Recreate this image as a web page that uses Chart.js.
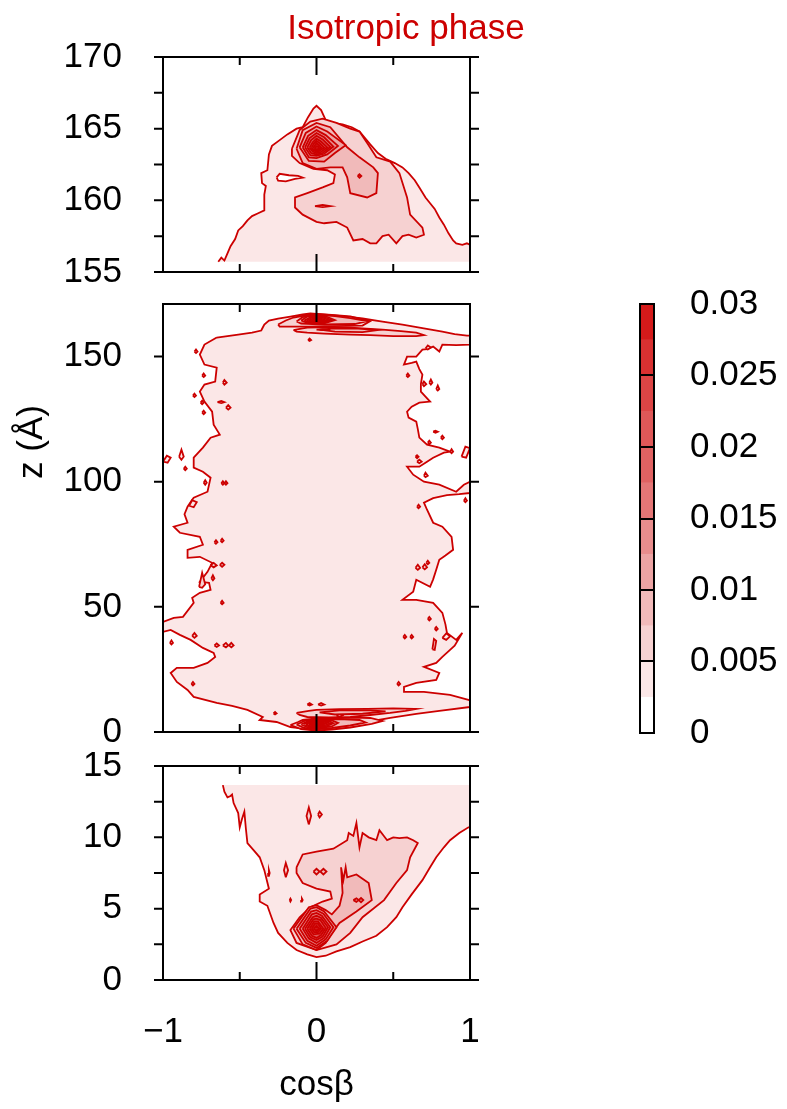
<!DOCTYPE html>
<html>
<head>
<meta charset="utf-8">
<title>Isotropic phase</title>
<script src="https://cdn.jsdelivr.net/npm/chart.js@4.4.1/dist/chart.umd.min.js"></script>
<style>
  html, body { margin: 0; padding: 0; background: #fff; overflow: hidden; }
  #page { position: relative; width: 787px; height: 1109px; }
  canvas { position: absolute; }
</style>
</head>
<body>
<div id="page">
  <canvas id="top_panel"></canvas>
  <canvas id="mid_panel"></canvas>
  <canvas id="bot_panel"></canvas>
  <canvas id="color_bar"></canvas>
</div>
<script>
// contour levels and the fill colour of each band (band k lies between level k and k+1)
var levelValues = [0, 0.0025, 0.005, 0.0075, 0.01, 0.0125, 0.015, 0.0175, 0.02, 0.0225, 0.025, 0.0275, 0.03];
var bandColors = ['#ffffff', '#fbe7e7', '#f6d1d1', '#f1baba', '#eca4a4', '#e88d8d', '#e47676', '#e06262', '#de5858', '#dc4545', '#d83131', '#d41a1a'];

var xTicks = [-1, 0, 1];
var xTickLabels = ['\u22121', '0', '1'];
var xMinorTicks = [-0.5, 0.5];
var topTicks = [155, 160, 165, 170];
var topMinorTicks = [157.5, 162.5, 167.5];
var midTicks = [0, 50, 100, 150];
var botTicks = [0, 5, 10, 15];
var botMinorTicks = [2.5, 7.5, 12.5];
var colorTicks = [0, 0.005, 0.01, 0.015, 0.02, 0.025, 0.03];
var colorTickLabels = ['0', '0.005', '0.01', '0.015', '0.02', '0.025', '0.03'];

// ---- top panel contours, points are [cosβ, z] ----
var topLevel1 = [[-0.64,155.72],[-0.62,156.0],[-0.60,155.8],[-0.58,156.3],[-0.56,156.8],[-0.53,157.3],[-0.51,157.9],[-0.48,158.2],[-0.45,158.6],[-0.42,158.9],[-0.38,159.1],[-0.34,159.3],[-0.34,160.4],[-0.33,161.0],[-0.355,161.2],[-0.36,161.9],[-0.32,162.1],[-0.31,163.2],[-0.29,163.8],[-0.24,164.2],[-0.19,164.6],[-0.13,165.0],[-0.09,165.1],[-0.055,165.8],[-0.02,166.4],[0.0,166.6],[0.03,166.3],[0.06,165.6],[0.10,165.4],[0.17,165.3],[0.23,165.1],[0.28,164.8],[0.32,164.3],[0.35,163.9],[0.40,163.3],[0.45,162.9],[0.51,162.6],[0.56,162.3],[0.60,161.9],[0.64,161.4],[0.67,160.9],[0.71,160.2],[0.74,159.8],[0.77,159.4],[0.80,158.8],[0.83,158.3],[0.86,157.7],[0.89,157.2],[0.91,157.0],[0.95,156.9],[0.98,157.0],[1,156.9],[1,155.72]];
var topHole = [[-0.26,161.6],[-0.24,161.85],[-0.18,161.75],[-0.12,161.7],[-0.09,161.58],[-0.14,161.5],[-0.2,161.32],[-0.25,161.38]];
var topLevel2 = [[-0.16,163.6],[-0.11,164.9],[-0.04,165.5],[0.04,165.7],[0.13,165.4],[0.22,165.0],[0.28,164.8],[0.33,164.0],[0.39,163.0],[0.48,162.7],[0.54,161.9],[0.59,160.2],[0.61,159.0],[0.69,158.1],[0.70,157.6],[0.65,157.4],[0.60,157.6],[0.56,157.5],[0.52,157.0],[0.47,157.6],[0.43,157.5],[0.39,157.0],[0.35,157.0],[0.30,157.3],[0.24,157.2],[0.20,158.1],[0.13,158.5],[0.05,158.4],[0.0,158.5],[-0.09,159.0],[-0.14,159.5],[-0.14,160.2],[-0.06,160.5],[0.04,160.9],[0.11,161.2],[0.12,161.8],[0.07,162.1],[-0.02,162.2],[-0.11,162.6],[-0.16,163.1]];
var topLevel3 = [[-0.13,163.6],[-0.09,164.9],[0.0,165.4],[0.09,165.1],[0.20,163.7],[0.28,163.0],[0.37,162.3],[0.40,161.9],[0.39,160.5],[0.33,160.2],[0.22,160.5],[0.20,161.6],[0.17,162.3],[0.09,162.3],[0.0,162.2],[-0.09,162.6]];
var topLevel4 = [[-0.11,163.7],[-0.07,164.7],[0.0,165.15],[0.07,164.8],[0.19,163.85],[0.12,163.3],[0.05,162.7],[-0.05,162.75]];
var topLevel5 = [[-0.09,163.7],[-0.055,164.5],[0.0,164.9],[0.06,164.55],[0.14,163.8],[0.07,163.2],[0.0,162.95],[-0.05,163.0]];
var topLevel6 = [[-0.075,163.7],[-0.045,164.35],[0.0,164.7],[0.05,164.4],[0.11,163.75],[0.05,163.25],[0.0,163.1],[-0.04,163.15]];
var topLevel7 = [[-0.06,163.7],[-0.035,164.2],[0.0,164.5],[0.04,164.25],[0.09,163.72],[0.04,163.3],[0.0,163.2],[-0.035,163.3]];
var topLevel8 = [[-0.045,163.68],[-0.025,164.05],[0.0,164.3],[0.03,164.1],[0.07,163.7],[0.03,163.38],[0.0,163.3],[-0.025,163.4]];
var topLevel9 = [[-0.033,163.66],[-0.018,163.95],[0.0,164.15],[0.022,163.98],[0.05,163.68],[0.02,163.45],[0.0,163.4],[-0.018,163.48]];
var topLevel10 = [[-0.022,163.65],[-0.01,163.85],[0.0,164.0],[0.015,163.86],[0.032,163.66],[0.014,163.52],[0.0,163.48],[-0.012,163.54]];
var topLevel11 = [[-0.012,163.64],[0.0,163.78],[0.01,163.76],[0.018,163.64],[0.008,163.56],[-0.004,163.56]];
var topIslandA = [[0.268,161.7],[0.28,161.82],[0.292,161.7],[0.28,161.58]];
var topIslandB = [[-0.01,159.6],[0.04,159.68],[0.09,159.6],[0.04,159.53]];

// ---- middle panel contours ----
var midLevel1 = [[-0.65,157.6],[-0.58,158.2],[-0.51,158.8],[-0.42,159.6],[-0.36,160.4],[-0.35,161.6],[-0.34,162.8],[-0.31,164.4],[-0.25,165.2],[-0.17,166.0],[-0.09,166.8],[-0.04,167.2],[0.04,166.8],[0.15,166.2],[0.30,165.2],[0.43,164.0],[0.56,162.8],[0.69,161.4],[0.82,160.0],[0.90,159.0],[0.98,158.4],[1,158.4],[1,154.8],
  [0.91,154.6],[0.82,154.8],[0.80,152.0],[0.76,154.0],[0.72,153.0],[0.69,152.8],[0.65,150.0],[0.59,150.0],[0.57,146.8],[0.62,147.5],[0.65,148.0],[0.67,145.0],[0.69,142.8],[0.68,139.0],[0.68,136.0],[0.71,134.0],[0.74,132.0],[0.67,131.6],[0.62,130.0],[0.59,128.0],[0.60,125.6],[0.65,124.0],[0.66,121.0],[0.67,117.6],[0.72,114.8],[0.80,113.6],[0.87,112.0],[0.83,111.6],[0.76,109.6],[0.72,108.0],[0.67,106.0],[0.59,106.0],[0.63,102.8],[0.70,100.0],[0.80,98.8],[0.91,96.0],[0.96,98.8],[1,100.0],[1,95.5],[0.93,95.0],[0.85,94.6],[0.76,93.4],[0.70,91.6],[0.72,88.8],[0.76,83.6],[0.82,82.0],[0.88,78.0],[0.89,72.8],[0.84,70.5],[0.80,68.8],[0.78,64.8],[0.76,61.0],[0.74,58.0],[0.65,60.8],[0.63,56.0],[0.56,52.8],[0.65,52.8],[0.76,51.6],[0.82,47.6],[0.84,43.0],[0.85,39.6],[0.91,36.8],[0.95,39.6],[0.90,34.5],[0.87,32.8],[0.82,30.0],[0.78,27.6],[0.70,26.0],[0.80,23.6],[0.78,20.8],[0.65,19.6],[0.57,18.0],[0.57,16.0],[0.70,16.0],[0.87,14.8],[0.99,12.8],[1,12.6],[1,10.0],
  [0.80,8.4],[0.65,7.2],[0.48,5.6],[0.33,4.0],[0.13,1.6],[0.0,0.8],[-0.17,2.0],[-0.26,4.0],[-0.37,4.8],[-0.35,6.0],[-0.45,8.8],[-0.55,10.4],[-0.65,11.6],[-0.80,14.0],[-0.84,16.8],[-0.91,20.0],[-0.95,23.6],[-0.91,25.6],[-0.80,25.6],[-0.71,27.6],[-0.66,30.0],[-0.67,31.6],[-0.74,33.6],[-0.82,36.8],[-0.89,38.8],[-0.95,40.8],[-1,40.0],[-1,44.0],[-0.93,45.6],[-0.87,46.0],[-0.80,51.6],[-0.81,53.6],[-0.76,55.6],[-0.69,56.8],[-0.70,59.6],[-0.76,60.0],[-0.71,64.0],[-0.68,67.6],[-0.76,70.0],[-0.84,69.6],[-0.84,72.8],[-0.74,74.8],[-0.76,78.0],[-0.89,79.6],[-0.93,82.0],[-0.84,83.6],[-0.86,87.0],[-0.84,90.0],[-0.81,92.8],[-0.80,93.6],[-0.71,96.0],[-0.69,101.6],[-0.74,104.0],[-0.80,105.6],[-0.80,109.6],[-0.74,113.6],[-0.69,117.6],[-0.63,118.8],[-0.67,122.8],[-0.68,128.0],[-0.73,132.0],[-0.76,136.0],[-0.73,138.8],[-0.66,140.0],[-0.65,145.6],[-0.73,146.8],[-0.76,150.8],[-0.73,154.8]];
var midTopLevel2 = [[-0.25,162.8],[-0.20,164.4],[-0.15,165.6],[-0.06,166.6],[0.0,167.0],[0.10,166.6],[0.22,166.0],[0.35,164.2],[0.30,162.4],[0.10,162.2],[-0.05,162.0],[-0.24,162.0]];
var midTopLevel3 = [[-0.13,164.0],[-0.09,165.8],[0.0,166.7],[0.12,166.2],[0.22,165.4],[0.33,164.2],[0.25,163.0],[0.05,162.8],[-0.10,163.2]];
var midTopLevel4 = [[-0.10,164.4],[-0.06,166.0],[0.0,166.5],[0.06,166.1],[0.12,164.6],[0.05,163.3],[0.0,163.1],[-0.06,163.5]];
var midTopLevel5 = [[-0.08,164.4],[-0.04,165.7],[0.0,166.2],[0.05,165.8],[0.10,164.6],[0.04,163.5],[0.0,163.3],[-0.05,163.7]];
var midTopLevel6 = [[-0.065,164.4],[-0.03,165.5],[0.0,165.9],[0.04,165.5],[0.085,164.5],[0.03,163.7],[0.0,163.5],[-0.04,163.8]];
var midTopLevel7 = [[-0.05,164.4],[-0.02,165.2],[0.0,165.6],[0.03,165.2],[0.065,164.4],[0.02,163.8],[-0.03,163.9]];
var midTopLevel8 = [[-0.035,164.4],[0.0,165.2],[0.045,164.4],[0.0,163.9]];
var midTopLevel9 = [[-0.02,164.4],[0.0,164.9],[0.025,164.4],[0.0,164.0]];
var midLensLevel2 = [[-0.15,160.6],[-0.10,161.2],[-0.06,161.6],[0.10,161.8],[0.22,161.6],[0.43,160.8],[0.55,160.2],[0.65,159.6],[0.70,158.6],[0.65,158.2],[0.50,158.2],[0.35,158.6],[0.22,158.8],[0.05,159.2],[-0.06,159.6],[-0.13,160.0]];
var midLensLevel3 = [[0.02,160.8],[0.10,161.2],[0.25,161.3],[0.40,160.6],[0.30,159.8],[0.12,160.0]];
var midLensLevel4 = [[0.0,160.8],[0.04,161.0],[0.09,160.8],[0.04,160.6]];
var midBaseLevel2 = [[-0.13,7.6],[-0.05,8.4],[0.0,8.8],[0.15,9.1],[0.33,9.2],[0.50,9.4],[0.65,9.2],[0.58,8.4],[0.48,7.6],[0.35,6.8],[0.22,6.0],[0.08,5.8],[-0.06,6.0],[-0.11,6.8]];
var midBaseLevel3 = [[0.02,7.8],[0.15,8.6],[0.35,8.6],[0.45,8.2],[0.30,7.3],[0.12,7.0]];
var midFootLevel2 = [[-0.17,2.8],[-0.12,4.0],[-0.09,4.8],[0.0,5.4],[0.11,5.6],[0.25,5.8],[0.35,5.6],[0.43,4.4],[0.36,3.2],[0.22,1.8],[0.10,1.0],[0.0,0.6],[-0.10,1.2]];
var midFootLevel3 = [[-0.13,3.0],[-0.07,4.6],[0.02,5.1],[0.15,5.2],[0.28,4.8],[0.32,3.8],[0.22,2.6],[0.10,1.6],[0.0,1.1],[-0.08,1.6]];
var midFootLevel4 = [[-0.10,3.0],[-0.05,4.5],[0.02,4.9],[0.10,4.6],[0.14,3.6],[0.10,2.2],[0.0,1.5],[-0.06,1.9]];
var midFootLevel5 = [[-0.085,3.1],[-0.04,4.3],[0.02,4.6],[0.08,4.3],[0.11,3.5],[0.07,2.4],[0.0,1.8],[-0.05,2.2]];
var midFootLevel6 = [[-0.07,3.1],[-0.03,4.1],[0.02,4.3],[0.06,4.0],[0.09,3.4],[0.05,2.6],[0.0,2.1],[-0.04,2.4]];
var midFootLevel7 = [[-0.05,3.2],[-0.02,3.9],[0.02,4.0],[0.06,3.4],[0.03,2.7],[-0.02,2.6]];
var midFootLevel8 = [[-0.035,3.2],[0.0,3.8],[0.04,3.3],[0.01,2.8]];
var midFootLevel9 = [[-0.02,3.2],[0.0,3.6],[0.025,3.3],[0.0,2.95]];
// small closed loops outside the main sheet
var midSpecksOuter = [
  [[-0.795,152.0],[-0.785,152.8],[-0.775,152.0],[-0.785,151.4]],
  [[-0.745,142.4],[-0.735,143.2],[-0.725,142.4],[-0.735,141.8]],
  [[-0.805,134.4],[-0.795,135.2],[-0.785,134.4],[-0.795,133.8]],
  [[-0.755,131.6],[-0.745,132.4],[-0.735,131.6],[-0.745,131.0]],
  [[-0.745,127.6],[-0.735,128.4],[-0.725,127.6],[-0.735,127.0]],
  [[-0.895,110.0],[-0.88,112.8],[-0.865,110.0],[-0.88,108.8]],
  [[-1,108.0],[-0.975,110.4],[-0.95,109.6],[-0.97,107.6]],
  [[-0.865,105.2],[-0.855,106.0],[-0.845,105.2],[-0.855,104.6]],
  [[-0.83,90.4],[-0.81,92.6],[-0.78,91.8],[-0.80,89.8]],
  [[-0.955,35.6],[-0.945,36.6],[-0.935,35.6],[-0.945,35.0]],
  [[-0.815,19.2],[-0.805,20.0],[-0.795,19.2],[-0.805,18.6]],
  [[0.71,153.2],[0.725,154.4],[0.745,153.6],[0.725,152.8]],
  [[0.69,139.0],[0.70,140.0],[0.715,139.0],[0.70,138.2]],
  [[0.735,139.6],[0.745,140.8],[0.755,139.6],[0.745,138.8]],
  [[0.78,137.0],[0.79,138.4],[0.80,137.0],[0.79,136.4]],
  [[0.76,120.0],[0.775,120.4],[0.79,120.0],[0.775,119.6]],
  [[0.81,117.6],[0.82,118.4],[0.83,117.6],[0.82,117.0]],
  [[0.725,115.6],[0.735,116.4],[0.745,115.6],[0.735,115.0]],
  [[0.87,112.0],[0.88,113.0],[0.89,112.0],[0.88,111.4]],
  [[0.945,110.0],[0.97,114.0],[1,113.4],[0.975,109.6]],
  [[0.645,110.0],[0.655,110.6],[0.665,110.0],[0.655,109.4]],
  [[0.655,108.0],[0.67,108.8],[0.685,108.0],[0.67,107.4]],
  [[0.70,102.4],[0.71,103.6],[0.725,102.4],[0.71,101.8]],
  [[0.655,90.0],[0.665,90.8],[0.675,90.0],[0.665,89.4]],
  [[0.96,92.4],[0.97,93.4],[0.98,92.4],[0.97,91.8]],
  [[0.725,45.2],[0.735,46.0],[0.745,45.2],[0.735,44.6]],
  [[0.77,41.2],[0.78,42.0],[0.79,41.2],[0.78,40.6]],
  [[0.82,37.6],[0.845,39.4],[0.87,38.2],[0.845,36.8]],
  [[0.525,19.2],[0.535,20.0],[0.545,19.2],[0.535,18.6]]
];
// small loops inside the main sheet
var midSpecksInner = [
  [[-0.61,139.6],[-0.60,140.6],[-0.585,139.6],[-0.60,138.8]],
  [[-0.645,131.8],[-0.62,132.3],[-0.60,131.8],[-0.62,131.4]],
  [[-0.59,129.6],[-0.575,130.6],[-0.56,129.6],[-0.575,128.8]],
  [[-0.735,99.6],[-0.725,100.6],[-0.715,99.6],[-0.725,98.8]],
  [[-0.62,99.4],[-0.61,100.2],[-0.60,99.4],[-0.61,98.8]],
  [[-0.60,99.4],[-0.59,100.2],[-0.58,99.4],[-0.59,98.8]],
  [[-0.665,75.8],[-0.655,76.6],[-0.645,75.8],[-0.655,75.2]],
  [[-0.625,76.4],[-0.615,77.2],[-0.605,76.4],[-0.615,75.8]],
  [[-0.69,66.6],[-0.67,67.6],[-0.65,66.6],[-0.67,65.8]],
  [[-0.63,66.8],[-0.615,67.6],[-0.60,66.8],[-0.615,66.0]],
  [[-0.765,58.0],[-0.745,63.6],[-0.725,59.0],[-0.745,57.6]],
  [[-0.685,61.4],[-0.675,62.6],[-0.665,61.4],[-0.675,60.6]],
  [[-0.625,51.6],[-0.615,52.4],[-0.605,51.6],[-0.615,51.0]],
  [[-0.81,38.4],[-0.795,39.6],[-0.78,38.4],[-0.795,37.6]],
  [[-0.665,34.6],[-0.65,35.4],[-0.635,34.6],[-0.65,34.0]],
  [[-0.61,34.6],[-0.59,35.6],[-0.575,34.6],[-0.59,33.8]],
  [[-0.57,34.6],[-0.555,35.6],[-0.54,34.6],[-0.555,33.8]],
  [[0.585,142.4],[0.595,143.2],[0.605,142.4],[0.595,141.8]],
  [[0.645,65.6],[0.66,66.8],[0.675,65.6],[0.66,64.8]],
  [[0.69,65.8],[0.705,67.0],[0.72,65.8],[0.705,65.0]],
  [[0.715,67.6],[0.725,68.4],[0.735,67.6],[0.725,67.0]],
  [[0.565,38.0],[0.575,38.8],[0.585,38.0],[0.575,37.4]],
  [[0.61,38.0],[0.62,38.8],[0.63,38.0],[0.62,37.4]],
  [[0.755,33.0],[0.765,37.2],[0.78,36.4],[0.77,32.8]],
  [[-0.06,11.0],[-0.045,11.6],[-0.03,11.0],[-0.045,10.6]],
  [[0.01,11.0],[0.03,11.6],[0.05,11.0],[0.03,10.6]],
  [[0.13,6.6],[0.15,7.4],[0.17,6.6],[0.15,6.0]],
  [[-0.28,7.4],[-0.27,8.0],[-0.26,7.4],[-0.27,7.0]],
  [[-0.055,156.6],[-0.045,157.2],[-0.035,156.6],[-0.045,156.2]]
];

// ---- bottom panel contours ----
var botLevel1 = [[-0.61,13.66],[-0.60,13.2],[-0.58,12.8],[-0.56,12.9],[-0.55,13.0],[-0.54,12.4],[-0.51,11.7],[-0.50,10.7],[-0.485,11.3],[-0.47,11.8],[-0.46,10.6],[-0.45,9.6],[-0.41,9.1],[-0.37,8.6],[-0.34,7.7],[-0.31,6.4],[-0.37,6.0],[-0.37,5.5],[-0.32,5.2],[-0.28,4.0],[-0.25,3.3],[-0.19,2.6],[-0.13,2.1],[-0.06,1.8],[0.0,1.6],[0.06,1.7],[0.13,2.0],[0.22,2.3],[0.30,2.7],[0.39,3.1],[0.46,3.7],[0.52,4.4],[0.56,5.1],[0.62,6.0],[0.69,7.0],[0.74,7.9],[0.78,8.6],[0.83,9.3],[0.87,9.8],[0.93,10.3],[0.99,10.7],[1,10.7],[1,13.66]];
var botLevel2 = [[-0.13,7.9],[-0.09,8.8],[0.0,9.0],[0.11,9.2],[0.20,9.8],[0.21,10.3],[0.24,10.1],[0.26,11.0],[0.28,9.3],[0.30,10.3],[0.34,10.0],[0.39,9.8],[0.41,10.5],[0.46,9.8],[0.50,10.0],[0.54,9.95],[0.59,10.0],[0.63,9.8],[0.66,9.6],[0.61,8.6],[0.59,7.7],[0.52,6.8],[0.44,5.6],[0.30,4.4],[0.22,3.3],[0.13,2.5],[0.0,2.1],[-0.13,2.6],[-0.17,3.5],[-0.11,4.4],[-0.04,5.1],[0.04,5.5],[0.10,5.7],[0.09,6.2],[0.0,6.4],[-0.09,6.8],[-0.13,7.5]];
var botLevel3 = [[-0.15,3.6],[-0.05,5.1],[0.0,5.25],[0.06,4.9],[0.10,4.6],[0.15,5.2],[0.17,6.1],[0.16,7.9],[0.175,7.0],[0.19,7.9],[0.20,7.2],[0.26,7.4],[0.34,6.8],[0.36,5.6],[0.26,4.8],[0.15,4.0],[0.10,3.3],[0.06,2.6],[0.0,2.1],[-0.09,2.5]];
var botLevel4 = [[-0.13,3.6],[-0.04,5.0],[0.0,5.1],[0.05,4.8],[0.13,3.7],[0.07,2.75],[0.0,2.25],[-0.07,2.6]];
var botLevel5 = [[-0.11,3.6],[-0.035,4.8],[0.0,4.9],[0.045,4.65],[0.11,3.7],[0.06,2.85],[0.0,2.4],[-0.06,2.75]];
var botLevel6 = [[-0.09,3.6],[-0.03,4.6],[0.0,4.7],[0.035,4.5],[0.09,3.7],[0.05,2.95],[0.0,2.6],[-0.05,2.9]];
var botLevel7 = [[-0.075,3.6],[-0.025,4.4],[0.0,4.5],[0.03,4.35],[0.075,3.7],[0.04,3.05],[0.0,2.8],[-0.04,3.0]];
var botLevel8 = [[-0.06,3.6],[-0.02,4.25],[0.0,4.3],[0.025,4.2],[0.06,3.65],[0.03,3.15],[0.0,2.95],[-0.03,3.1]];
var botLevel9 = [[-0.045,3.6],[-0.015,4.1],[0.01,4.1],[0.045,3.6],[0.02,3.25],[-0.02,3.2]];
var botLevel10 = [[-0.032,3.6],[-0.01,3.95],[0.01,3.95],[0.03,3.6],[0.01,3.35],[-0.015,3.35]];
var botLevel11 = [[-0.02,3.6],[0.0,3.8],[0.018,3.6],[0.0,3.45]];
var botSpecks2 = [
  [[-0.05,10.9],[-0.035,11.5],[-0.05,12.1],[-0.065,11.5]],
  [[0.01,11.6],[0.02,11.8],[0.035,11.6],[0.02,11.4]],
  [[-0.315,7.5],[-0.31,7.7],[-0.305,7.5],[-0.31,7.3]],
  [[-0.20,7.2],[-0.185,7.7],[-0.20,8.2],[-0.212,7.7]],
  [[-0.175,5.6],[-0.17,5.7],[-0.165,5.6],[-0.17,5.5]],
  [[-0.10,5.6],[-0.095,5.7],[-0.09,5.6],[-0.095,5.5]]
];
var botSpecks3 = [
  [[-0.02,7.6],[0.0,7.8],[0.02,7.6],[0.0,7.4]],
  [[0.025,7.6],[0.045,7.8],[0.065,7.6],[0.045,7.4]]
];
var botSpecks4 = [
  [[0.24,5.6],[0.26,5.72],[0.275,5.6],[0.26,5.48]],
  [[0.275,5.6],[0.29,5.75],[0.305,5.6],[0.29,5.45]]
];

// ---- layout (page pixels) ----
var AREA_LEFT = 163, AREA_RIGHT = 470;
var LINE_RED = '#cc0000';
var FONT = '"Liberation Sans", Arial, Helvetica, sans-serif';

Chart.defaults.font.family = FONT;
Chart.defaults.font.size = 35;
Chart.defaults.color = '#000';

function toXY(pts) {
  return pts.map(function (p) { return {x: p[0], y: p[1]}; });
}

// one filled contour; the last `edge` points lie on the data boundary and get no outline
function contourSets(pts, level, band, edge) {
  var closed = toXY(pts.concat([pts[0]]));
  var base = {showLine: true, pointRadius: 0, pointHoverRadius: 0, tension: 0, order: 100 - level};
  if (!edge) {
    return [Object.assign({}, base, {data: closed, fill: 'shape', backgroundColor: bandColors[band],
      borderColor: LINE_RED, borderWidth: 1.8})];
  }
  return [
    Object.assign({}, base, {data: closed, fill: 'shape', backgroundColor: bandColors[band], borderWidth: 0}),
    Object.assign({}, base, {data: toXY(pts.slice(0, pts.length - edge)), fill: false,
      borderColor: LINE_RED, borderWidth: 1.8, order: 100 - level - 0.001})
  ];
}

// frame plus ticks: y ticks outward on both sides, x ticks inward on top and bottom
function frameTicks(yMarks) {
  return {
    id: 'frameTicks',
    afterDatasetsDraw: function (chart) {
      var ctx = chart.ctx, a = chart.chartArea, xs = chart.scales.x, ys = chart.scales.y;
      ctx.save();
      ctx.strokeStyle = '#000';
      ctx.lineWidth = 2;
      ctx.beginPath();
      yMarks.forEach(function (v) {
        var py = ys.getPixelForValue(v);
        ctx.moveTo(a.left - 9, py); ctx.lineTo(a.left, py);
        ctx.moveTo(a.right, py); ctx.lineTo(a.right + 9, py);
      });
      [[xTicks, 18], [xMinorTicks, 8]].forEach(function (set) {
        set[0].forEach(function (v) {
          var px = xs.getPixelForValue(v);
          ctx.moveTo(px, a.top); ctx.lineTo(px, a.top + set[1]);
          ctx.moveTo(px, a.bottom); ctx.lineTo(px, a.bottom - set[1]);
        });
      });
      ctx.stroke();
      ctx.strokeRect(a.left, a.top, a.right - a.left, a.bottom - a.top);
      ctx.restore();
    }
  };
}

function placeCanvas(id, box) {
  var cv = document.getElementById(id);
  cv.width = box.w; cv.height = box.h;
  cv.style.left = box.x + 'px'; cv.style.top = box.y + 'px';
  cv.style.width = box.w + 'px'; cv.style.height = box.h + 'px';
  return cv;
}

// keep the axis box at a fixed size and stop tick labels from padding the chart area
function fixedWidth(w) {
  return function (s) { s.width = w; s.paddingTop = 0; s.paddingBottom = 0; };
}

function makePanel(id, box, area, yRange, yTicks, yMinor, regions, extra) {
  var cv = placeCanvas(id, box);
  var sets = [];
  regions.forEach(function (r) { sets = sets.concat(contourSets(r[0], r[1], r[2], r[3])); });
  var showX = !!extra.xAxis;
  var scales = {
    x: {type: 'linear', min: -1, max: 1, display: false},
    y: {
      type: 'linear', min: yRange[0], max: yRange[1],
      afterFit: fixedWidth(AREA_LEFT - box.x),
      afterBuildTicks: function (s) { s.ticks = yTicks.map(function (v) { return {value: v}; }); },
      grid: {display: false, drawTicks: false},
      border: {display: false},
      ticks: {padding: 41, autoSkip: false, callback: function (v) { return String(v); }}
    }
  };
  if (showX) {
    scales.x = {
      type: 'linear', min: -1, max: 1,
      afterFit: function (s) {
        s.height = box.y + box.h - area.bottom;
        s.paddingLeft = 0; s.paddingRight = 0;
      },
      afterBuildTicks: function (s) { s.ticks = xTicks.map(function (v) { return {value: v}; }); },
      grid: {display: false, drawTicks: false},
      border: {display: false},
      ticks: {padding: 31, maxRotation: 0, autoSkip: false,
        callback: function (v) { return xTickLabels[xTicks.indexOf(v)]; }},
      title: {display: true, text: 'cos\u03b2', font: {size: 35}, padding: {top: 0, bottom: 3}}
    };
  }
  var padRight = box.x + box.w - AREA_RIGHT;
  if (extra.title) {
    // a blank right-hand axis holds the plot width so the title can span the whole canvas
    scales.yr = {
      type: 'linear', position: 'right', display: true,
      afterFit: fixedWidth(padRight),
      ticks: {display: false}, grid: {display: false, drawTicks: false}, border: {display: false}
    };
    padRight = 0;
  }
  return new Chart(cv, {
    type: 'scatter',
    data: {datasets: sets},
    options: {
      responsive: false,
      devicePixelRatio: 1,
      animation: false,
      events: [],
      layout: {padding: {
        left: 0,
        right: padRight,
        top: extra.title ? 0 : area.top - box.y,
        bottom: showX ? 0 : box.y + box.h - area.bottom
      }},
      plugins: {
        legend: {display: false},
        tooltip: {enabled: false},
        title: extra.title || {display: false}
      },
      scales: scales
    },
    plugins: [frameTicks(yTicks.concat(yMinor))].concat(extra.plugins || [])
  });
}

// ---- top panel: z from 155 to 170 ----
makePanel('top_panel', {x: 25, y: 0, w: 762, h: 300}, {top: 57, bottom: 272}, [155, 170], topTicks, topMinorTicks, [
  [topLevel1, 1, 1, 1],
  [topHole, 1.5, 0],
  [topLevel2, 2, 2], [topLevel3, 3, 3], [topIslandB, 3.5, 3],
  [topLevel4, 4, 4], [topIslandA, 4.5, 4],
  [topLevel5, 5, 5], [topLevel6, 6, 6], [topLevel7, 7, 7], [topLevel8, 8, 8],
  [topLevel9, 9, 9], [topLevel10, 10, 10], [topLevel11, 11, 11]
], {
  title: {display: true, text: 'Isotropic phase', color: '#cc0000',
    font: {size: 35, weight: 'normal'}, padding: {top: 8, bottom: 7}}
});

// ---- middle panel: full box height ----
var zLabel = {
  id: 'zLabel',
  afterDraw: function (chart) {
    var ctx = chart.ctx;
    ctx.save();
    ctx.translate(32, 442 - 272);
    ctx.rotate(-Math.PI / 2);
    ctx.font = '35px ' + FONT;
    ctx.fillStyle = '#000';
    ctx.textAlign = 'center';
    ctx.textBaseline = 'middle';
    ctx.fillText('z (\u00c5)', 0, 0);
    ctx.restore();
  }
};
var midRegions = [[midLevel1, 1, 1]];
midSpecksOuter.forEach(function (s) { midRegions.push([s, 1.2, 1]); });
midSpecksInner.forEach(function (s) { midRegions.push([s, 2.2, 2]); });
midRegions = midRegions.concat([
  [midTopLevel2, 2, 2], [midTopLevel3, 3, 3], [midTopLevel4, 4, 4], [midTopLevel5, 5, 5],
  [midTopLevel6, 6, 6], [midTopLevel7, 7, 7], [midTopLevel8, 8, 8], [midTopLevel9, 9, 9],
  [midLensLevel2, 2, 2], [midLensLevel3, 3, 3], [midLensLevel4, 4, 4],
  [midBaseLevel2, 2, 2], [midBaseLevel3, 3, 3],
  [midFootLevel2, 2, 2], [midFootLevel3, 3, 3], [midFootLevel4, 4, 4], [midFootLevel5, 5, 5],
  [midFootLevel6, 6, 6], [midFootLevel7, 7, 7], [midFootLevel8, 8, 8], [midFootLevel9, 9, 9]
]);
makePanel('mid_panel', {x: 0, y: 272, w: 500, h: 500}, {top: 304, bottom: 732}, [0, 171], midTicks, [], midRegions,
  {plugins: [zLabel]});

// ---- bottom panel: z from 0 to 15 ----
var botRegions = [[botLevel1, 1, 1, 1], [botLevel2, 2, 2]];
botSpecks2.forEach(function (s) { botRegions.push([s, 2.2, 2]); });
botRegions.push([botLevel3, 3, 3]);
botSpecks3.forEach(function (s) { botRegions.push([s, 3.2, 3]); });
botRegions.push([botLevel4, 4, 4]);
botSpecks4.forEach(function (s) { botRegions.push([s, 4.2, 4]); });
botRegions = botRegions.concat([
  [botLevel5, 5, 5], [botLevel6, 6, 6], [botLevel7, 7, 7], [botLevel8, 8, 8],
  [botLevel9, 9, 9], [botLevel10, 10, 10], [botLevel11, 11, 11]
]);
makePanel('bot_panel', {x: 0, y: 740, w: 500, h: 369}, {top: 766, bottom: 980}, [0, 15], botTicks, botMinorTicks, botRegions,
  {xAxis: true});

// ---- colour key ----
(function () {
  var box = {x: 600, y: 272, w: 187, h: 500};
  var cv = placeCanvas('color_bar', box);
  var sets = [];
  for (var i = 0; i < levelValues.length - 1; i++) {
    sets.push({data: [[levelValues[i], levelValues[i + 1]]], backgroundColor: bandColors[i],
      borderWidth: 0, barPercentage: 1, categoryPercentage: 1, grouped: false});
  }
  new Chart(cv, {
    type: 'bar',
    data: {labels: ['key'], datasets: sets},
    options: {
      responsive: false,
      devicePixelRatio: 1,
      animation: false,
      events: [],
      layout: {padding: {left: 40, right: 0, top: 304 - box.y, bottom: box.y + box.h - 733}},
      plugins: {legend: {display: false}, tooltip: {enabled: false}},
      scales: {
        x: {display: false},
        y: {
          position: 'right', min: 0, max: 0.03,
          afterFit: fixedWidth(box.x + box.w - 654),
          afterBuildTicks: function (s) { s.ticks = colorTicks.map(function (v) { return {value: v}; }); },
          grid: {color: '#000', lineWidth: 2, drawTicks: false, z: 1},
          border: {display: false},
          ticks: {padding: 36, callback: function (v) { return colorTickLabels[colorTicks.indexOf(v)]; }}
        }
      }
    },
    plugins: [{
      id: 'keyFrame',
      afterDraw: function (chart) {
        var ctx = chart.ctx, a = chart.chartArea;
        ctx.save();
        ctx.strokeStyle = '#000';
        ctx.lineWidth = 2;
        ctx.strokeRect(a.left, a.top, a.right - a.left, a.bottom - a.top);
        ctx.restore();
      }
    }]
  });
})();
</script>
</body>
</html>
